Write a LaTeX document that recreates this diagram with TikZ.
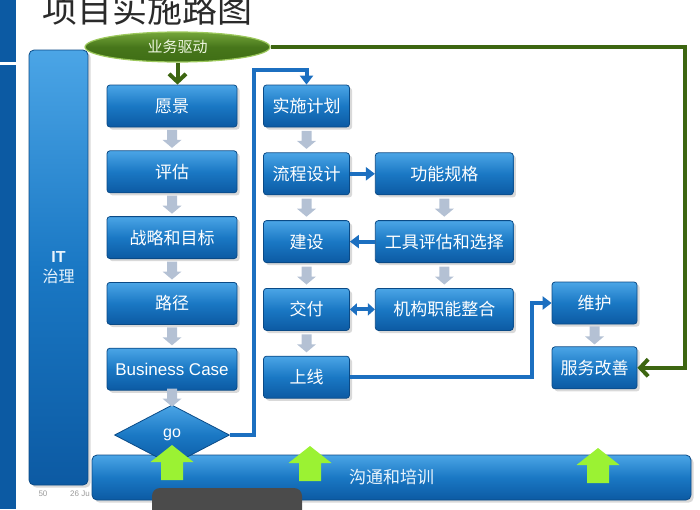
\documentclass[tikz,border=0pt]{standalone}
\usepackage{fontspec}
\setmainfont{Liberation Sans}
\newfontfamily\cjk{Noto Sans CJK SC}
\usetikzlibrary{arrows.meta,positioning,calc,shapes.geometric,shadows}
\definecolor{ItBlue}{HTML}{1A78C4}
\definecolor{ItBlueLight}{HTML}{4BA5E6}
\definecolor{ItBlueDeep}{HTML}{0C5AA3}
\definecolor{ItBlueEdge}{HTML}{0A4A86}
\definecolor{LineBlue}{HTML}{1C6FC0}
\definecolor{DriveGreen}{HTML}{3F6E15}
\definecolor{DriveGreenLight}{HTML}{74A53A}
\definecolor{DriveEdge}{HTML}{9CC85C}
\definecolor{DriveText}{HTML}{EEF7E0}
\definecolor{LineGreen}{HTML}{3D6611}
\definecolor{LimeUp}{HTML}{9BF233}
\definecolor{ArrGray}{HTML}{B4C1D4}
\definecolor{TitleGray}{HTML}{2A2A2A}
\definecolor{FootGray}{HTML}{9A9A9A}
\definecolor{OverlayGray}{HTML}{4B4B4B}

\begin{document}
\begin{tikzpicture}[x=1pt,y=-1pt,
  blk/.style={rounded corners=3pt,draw=ItBlueEdge,line width=0.8pt,
    top color=ItBlueLight,bottom color=ItBlueDeep,middle color=ItBlue,
    minimum height=42pt,minimum width=#1,inner sep=2pt,align=center,text=white,
    font=\cjk\fontsize{17}{20}\selectfont,drop shadow={opacity=0.3}},
  blk/.default=130pt,
  bar/.style={blk,rounded corners=5pt,text=white!88!ItBlueLight},
  drive/.style={ellipse,draw=DriveEdge,line width=1.2pt,top color=DriveGreenLight,
    bottom color=DriveGreen,middle color=DriveGreen!85!DriveGreenLight,
    minimum width=185pt,minimum height=30pt,inner sep=0pt,text=DriveText,
    font=\cjk\fontsize{15}{18}\selectfont},
  gobox/.style={diamond,aspect=1.9,draw=ItBlueEdge,line width=0.8pt,
    top color=ItBlueLight,bottom color=ItBlueDeep,middle color=ItBlue,
    minimum width=115pt,minimum height=60pt,inner sep=0pt,text=white,
    font=\fontsize{16}{18}\selectfont},
  bluearr/.style={draw=LineBlue,line width=4pt,-{Triangle[length=9pt,width=13pt]}},
  bothArr/.style={draw=LineBlue,line width=4pt,
    {Triangle[length=7pt,width=12pt]}-{Triangle[length=7pt,width=12pt]}},
  greenln/.style={draw=LineGreen,line width=4pt,
    -{Straight Barb[length=8pt,width=17pt,line width=4pt]}},
  grayarr/.pic={\fill[ArrGray] (-5,-9) -- (5,-9) -- (5,1) -- (9.5,1) -- (0,9)
    -- (-9.5,1) -- (-5,1) -- cycle;},
  limearr/.pic={\fill[LimeUp] (-11,0) -- (11,0) -- (11,-18) -- (21.5,-18)
    -- (0,-35) -- (-21.5,-18) -- (-11,-18) -- cycle;}
]
\useasboundingbox (0,0) rectangle (700,509);

% slide frame
\fill[ItBlueDeep] (0,0) rectangle (16,62);
\fill[ItBlueDeep] (0,65) rectangle (16,509);
\node[anchor=base west,inner sep=0pt,text=TitleGray,
  font=\cjk\fontsize{35}{35}\selectfont] (title) at (42,22) {项目实施路图};
\node[anchor=base,inner sep=0pt,text=FootGray,font=\fontsize{8}{9}\selectfont]
  (pageno) at (43,496) {50};
\node[anchor=base west,inner sep=0pt,text=FootGray,font=\fontsize{8}{9}\selectfont]
  (date) at (70,496) {26 Ju};

% governance and training bars
\node[bar,minimum width=59pt,minimum height=435pt,
  font=\fontsize{16}{20}\selectfont] (gov) at (58.5,267.5)
  {\textbf{IT}\\{\cjk 治理}};
\node[bar,minimum width=599pt,minimum height=45pt] (comm) at (391.5,477.5) {沟通和培训};

% business driven
\node[drive] (drive) at (177.5,47) {业务驱动};

% left column
\node[blk] (vision) at (172,106) {愿景};
\node[blk,below=23pt of vision] (assess) {评估};
\node[blk,below=23pt of assess] (strategy) {战略和目标};
\node[blk,below=23pt of strategy] (roadmap) {路径};
\node[blk,below=23pt of roadmap,font=\fontsize{17}{20}\selectfont] (bizcase) {Business Case};
\node[gobox,below=14pt of bizcase] (go) {go};

% middle columns
\node[blk=86pt] (plan) at (306.5,106) {实施计划};
\node[blk=86pt,below=25pt of plan] (design) {流程设计};
\node[blk=86pt,below=25pt of design] (build) {建设};
\node[blk=86pt,below=25pt of build] (deliver) {交付};
\node[blk=86pt,below=25pt of deliver] (golive) {上线};
\node[blk=138pt,right=25pt of design] (spec) {功能规格};
\node[blk=138pt,right=25pt of build] (tools) {工具评估和选择};
\node[blk=138pt,right=25pt of deliver] (orgfit) {机构职能整合};

% right column
\node[blk=85pt] (maint) at (594.5,303) {维护};
\node[blk=85pt,below=22pt of maint] (svc) {服务改善};

% flow arrows
\foreach \a/\b in {vision/assess,assess/strategy,strategy/roadmap,roadmap/bizcase,
  bizcase/go,plan/design,design/build,build/deliver,deliver/golive,
  spec/tools,tools/orgfit,maint/svc}
  \pic at ($(\a.south)!.5!(\b.north)$) {grayarr};

\draw[greenln] (drive.south) -- (drive.south |- vision.north);
\draw[greenln] (drive.east) -| ([xshift=48pt]svc.east) -- (svc.east);
\draw[bluearr] (go.east) -- ++(24,0) |- ([yshift=15pt]plan.north) -- (plan.north);
\draw[bluearr] (design) -- (spec);
\draw[bluearr] (tools) -- (build);
\draw[bothArr] (deliver) -- (orgfit);
\draw[bluearr] (golive.east) -| ([xshift=-20pt]maint.west) -- (maint.west);

% training support arrows
\foreach \x/\y in {172/480,310/481,598/483}
  \pic at (\x,\y) {limearr};

\fill[OverlayGray,rounded corners=8pt] (152,488) rectangle (302,520);
\end{tikzpicture}
\end{document}
